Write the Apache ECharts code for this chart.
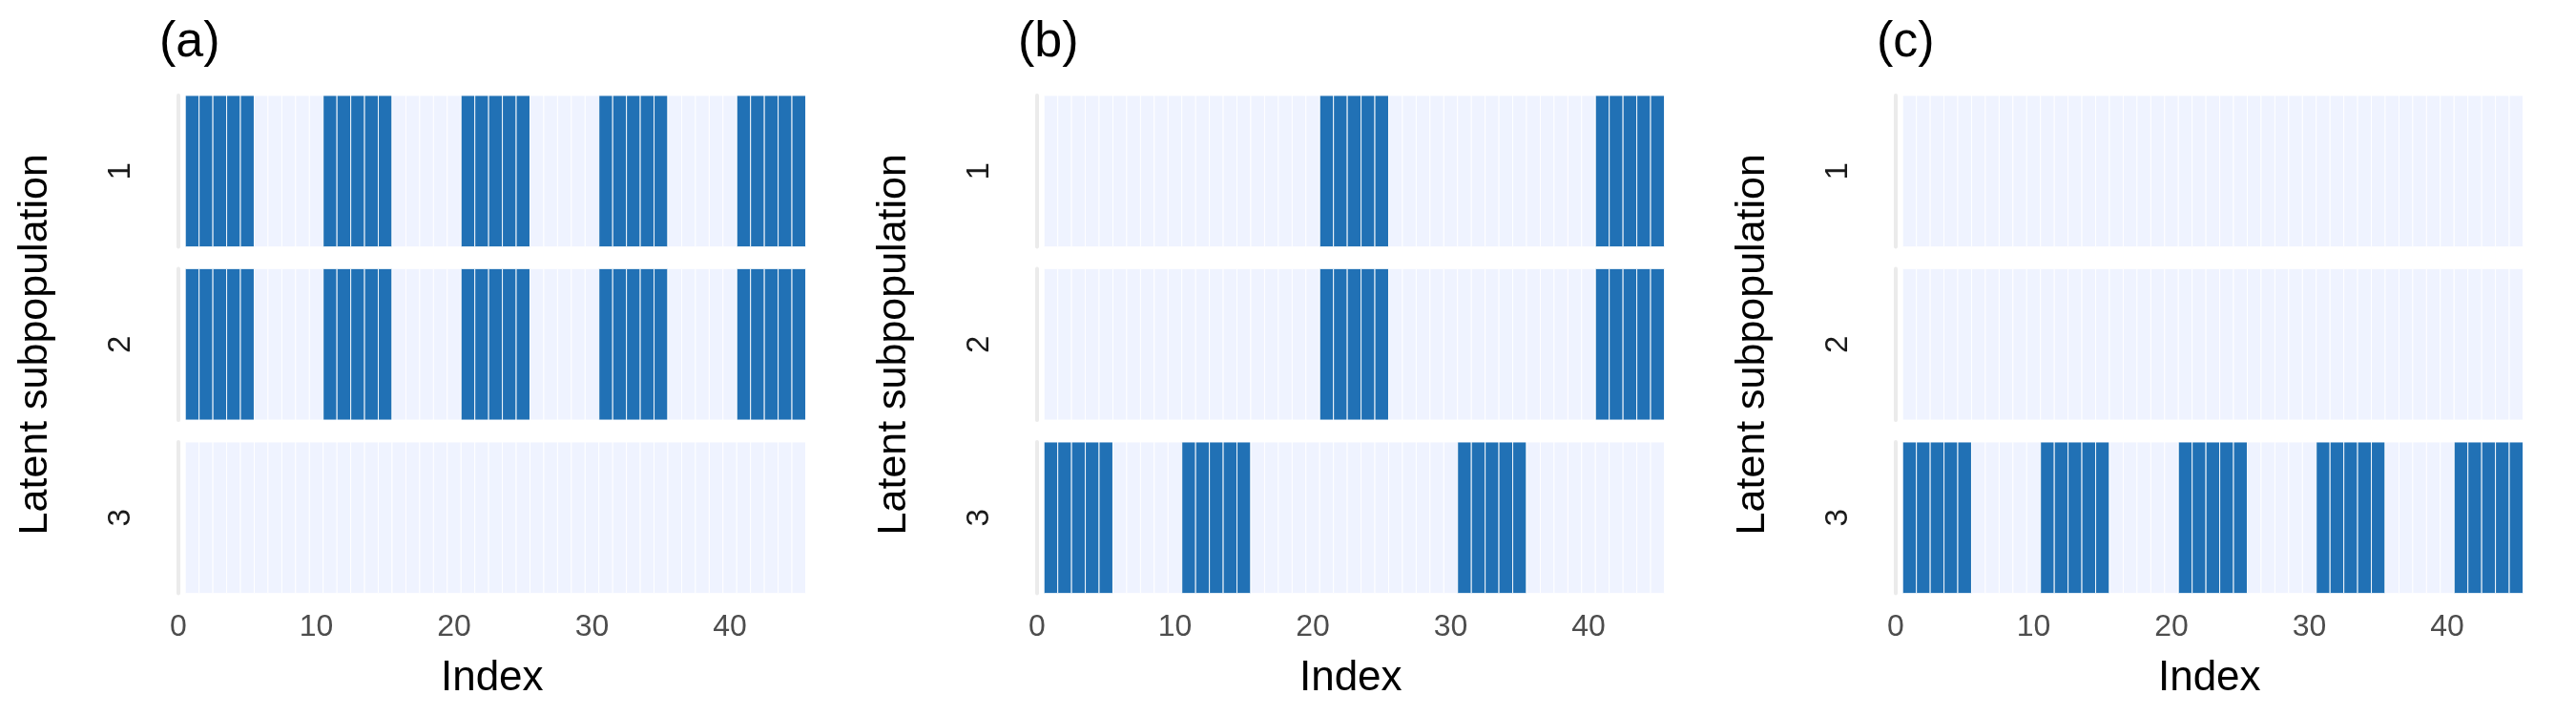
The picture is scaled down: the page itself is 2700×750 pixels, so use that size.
<!DOCTYPE html>
<html>
<head>
<meta charset="utf-8">
<script src="https://cdn.jsdelivr.net/npm/echarts@6/dist/echarts.min.js"></script>
<style>html,body{margin:0;padding:0;background:#fff}#chart{width:2700px;height:750px}</style>
</head>
<body>
<div id="chart"></div>
<script>
// ---- data ----
const INDEX = [1,2,3,4,5,6,7,8,9,10,11,12,13,14,15,16,17,18,19,20,21,22,23,24,25,26,27,28,29,30,31,32,33,34,35,36,37,38,39,40,41,42,43,44,45];
const ROW_LABELS = ['1', '2', '3'];
const PANEL_TITLES = ['(a)', '(b)', '(c)'];
const X_TICKS = [0, 10, 20, 30, 40];

const A1 = [1,1,1,1,1,0,0,0,0,0,1,1,1,1,1,0,0,0,0,0,1,1,1,1,1,0,0,0,0,0,1,1,1,1,1,0,0,0,0,0,1,1,1,1,1];
const A2 = [1,1,1,1,1,0,0,0,0,0,1,1,1,1,1,0,0,0,0,0,1,1,1,1,1,0,0,0,0,0,1,1,1,1,1,0,0,0,0,0,1,1,1,1,1];
const A3 = [0,0,0,0,0,0,0,0,0,0,0,0,0,0,0,0,0,0,0,0,0,0,0,0,0,0,0,0,0,0,0,0,0,0,0,0,0,0,0,0,0,0,0,0,0];
const B1 = [0,0,0,0,0,0,0,0,0,0,0,0,0,0,0,0,0,0,0,0,1,1,1,1,1,0,0,0,0,0,0,0,0,0,0,0,0,0,0,0,1,1,1,1,1];
const B2 = [0,0,0,0,0,0,0,0,0,0,0,0,0,0,0,0,0,0,0,0,1,1,1,1,1,0,0,0,0,0,0,0,0,0,0,0,0,0,0,0,1,1,1,1,1];
const B3 = [1,1,1,1,1,0,0,0,0,0,1,1,1,1,1,0,0,0,0,0,0,0,0,0,0,0,0,0,0,0,1,1,1,1,1,0,0,0,0,0,0,0,0,0,0];
const C1 = [0,0,0,0,0,0,0,0,0,0,0,0,0,0,0,0,0,0,0,0,0,0,0,0,0,0,0,0,0,0,0,0,0,0,0,0,0,0,0,0,0,0,0,0,0];
const C2 = [0,0,0,0,0,0,0,0,0,0,0,0,0,0,0,0,0,0,0,0,0,0,0,0,0,0,0,0,0,0,0,0,0,0,0,0,0,0,0,0,0,0,0,0,0];
const C3 = [1,1,1,1,1,0,0,0,0,0,1,1,1,1,1,0,0,0,0,0,1,1,1,1,1,0,0,0,0,0,1,1,1,1,1,0,0,0,0,0,1,1,1,1,1];

const PANELS = [[A1, A2, A3], [B1, B2, B3], [C1, C2, C3]];

// ---- layout / style ----
const BLUE = '#2171b5', LIGHT = '#eff3ff';
const FONT = 'Liberation Sans, Arial, Helvetica, sans-serif';
const PANEL_LEFT = [187, 1087, 1987];
const ROW_TOP = [100, 281.5, 463];
const ROW_H = 158.5;
const PANEL_W = 657.5;

function renderTile(params, api) {
  const x = api.value(0), v = api.value(2);
  const a = api.coord([x - 0.5, 0]);
  const b = api.coord([x + 0.5, 0]);
  const h = api.size([1, 1])[1];
  return {
    type: 'rect',
    shape: { x: a[0], y: a[1] - h / 2, width: b[0] - a[0], height: h },
    style: { fill: v ? BLUE : LIGHT, stroke: 'rgba(255,255,255,0.9)', lineWidth: 1 }
  };
}

const grid = [], xAxis = [], yAxis = [], series = [], title = [];
PANELS.forEach((rows, p) => {
  title.push({
    text: PANEL_TITLES[p], left: PANEL_LEFT[p] - 25, top: 14,
    textStyle: { fontFamily: FONT, fontSize: 52, fontWeight: 'normal', color: '#000' }
  });
  rows.forEach((vals, r) => {
    const gi = grid.length;
    grid.push({ left: PANEL_LEFT[p], top: ROW_TOP[r], width: PANEL_W, height: ROW_H });
    const bottom = r === 2;
    xAxis.push({
      type: 'value', gridIndex: gi, min: 0, max: 45.5, interval: 10,
      axisLine: { show: false }, axisTick: { show: false }, splitLine: { show: false },
      axisLabel: {
        show: bottom, fontFamily: FONT, fontSize: 32, color: '#4d4d4d', margin: 20,
        showMaxLabel: false,
        formatter: v => (X_TICKS.indexOf(v) >= 0 ? String(v) : '')
      },
      name: bottom ? 'Index' : '', nameLocation: 'middle', nameGap: 67,
      nameTextStyle: { fontFamily: FONT, fontSize: 44, color: '#000' }
    });
    yAxis.push({
      type: 'category', gridIndex: gi, data: [ROW_LABELS[r]],
      axisLine: { show: true, lineStyle: { color: '#ebebeb', width: 4 } },
      axisTick: { show: false }, splitLine: { show: false },
      axisLabel: { rotate: 90, fontFamily: FONT, fontSize: 33, color: '#1a1a1a', margin: 44 },
      name: r === 1 ? 'Latent subpopulation' : '', nameLocation: 'middle', nameRotate: 90, nameGap: 128,
      nameTextStyle: { fontFamily: FONT, fontSize: 43, color: '#000' }
    });
    series.push({
      type: 'custom', xAxisIndex: gi, yAxisIndex: gi, renderItem: renderTile,
      clip: true, silent: true,
      data: INDEX.map((ix, k) => [ix, 0, vals[k]])
    });
  });
});

const chart = echarts.init(document.getElementById('chart'), null, { renderer: 'canvas' });
chart.setOption({ animation: false, backgroundColor: '#fff', title, grid, xAxis, yAxis, series });
</script>
</body>
</html>
